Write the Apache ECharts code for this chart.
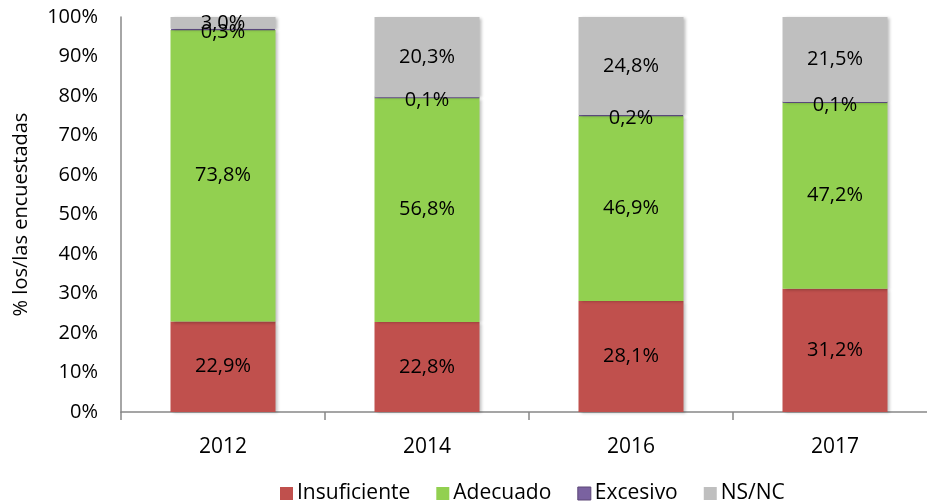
<!DOCTYPE html>
<html><head><meta charset="utf-8">
<script src="https://cdn.jsdelivr.net/npm/echarts@6/dist/echarts.min.js"></script>
<style>html,body{margin:0;padding:0;background:#fff}#c{width:927px;height:503px}</style>
</head><body><div id="c"></div>
<script>
const categories = ['2012', '2014', '2016', '2017'];
const insuficiente = [22.9, 22.8, 28.1, 31.2];
const adecuado = [73.8, 56.8, 46.9, 47.2];
const excesivo = [0.3, 0.1, 0.2, 0.1];
const nsnc = [3.0, 20.3, 24.8, 21.5];
const yTicks = [0, 10, 20, 30, 40, 50, 60, 70, 80, 90, 100];

const font = '"Open Sans", "DejaVu Sans", sans-serif';
const fmt = p => p.value.toFixed(1).replace('.', ',') + '%';
const shadow = {shadowBlur: 3, shadowOffsetX: 2, shadowOffsetY: 1, shadowColor: 'rgba(0,0,0,0.25)'};
const labelStyle = {show: true, position: 'inside', formatter: fmt, color: '#000', fontSize: 20, fontFamily: font};
function series(name, data, color, extra) {
  return Object.assign({
    name, type: 'bar', stack: 'a', data, barWidth: 105,
    itemStyle: Object.assign({color}, shadow),
    label: labelStyle,
    emphasis: {disabled: true}
  }, extra || {});
}
const chart = echarts.init(document.getElementById('c'), null, {renderer: 'canvas'});
chart.setOption({
  animation: false,
  grid: {left: 121, top: 17, bottom: 91, right: -10, containLabel: false, outerBoundsMode: 'none'},
  legend: {
    top: 478, left: 275, itemWidth: 13, itemHeight: 13, itemGap: 26, icon: 'rect',
    textStyle: {fontSize: 21, fontFamily: font, color: '#000', padding: [0, 0, 0, -1]},
    data: [
      {name: 'Insuficiente'}, {name: 'Adecuado'},
      {name: 'Excesivo', itemStyle: {borderColor: '#5c4776', borderWidth: 1}}, {name: 'NS/NC'}
    ]
  },
  xAxis: {
    type: 'category', data: categories,
    axisLine: {lineStyle: {color: '#888', width: 1.5}},
    axisTick: {show: true, length: 8, lineStyle: {color: '#888', width: 1.5}},
    axisLabel: {fontSize: 21, fontFamily: font, color: '#000', margin: 25}
  },
  yAxis: {
    type: 'value', min: 0, max: 100, interval: 10,
    name: '% los/las encuestadas', nameLocation: 'middle', nameGap: 90, nameRotate: 90,
    nameTextStyle: {fontSize: 20, fontFamily: font, color: '#000'},
    axisLine: {show: true, lineStyle: {color: '#888', width: 1.5}},
    axisTick: {show: false},
    splitLine: {show: false},
    axisLabel: {fontSize: 20, fontFamily: font, color: '#000', margin: 23,
      formatter: v => yTicks.includes(v) ? v + '%' : ''}
  },
  series: [
    series('Insuficiente', insuficiente, '#c0504d'),
    series('Adecuado', adecuado, '#92d050'),
    series('Excesivo', excesivo, '#8064a2', {
      itemStyle: {color: '#7a62a0', borderColor: '#6a5590', borderWidth: 1.6},
      label: Object.assign({}, labelStyle, {offset: [0, 3]})
    }),
    series('NS/NC', nsnc, '#bfbfbf')
  ]
});
</script></body></html>
